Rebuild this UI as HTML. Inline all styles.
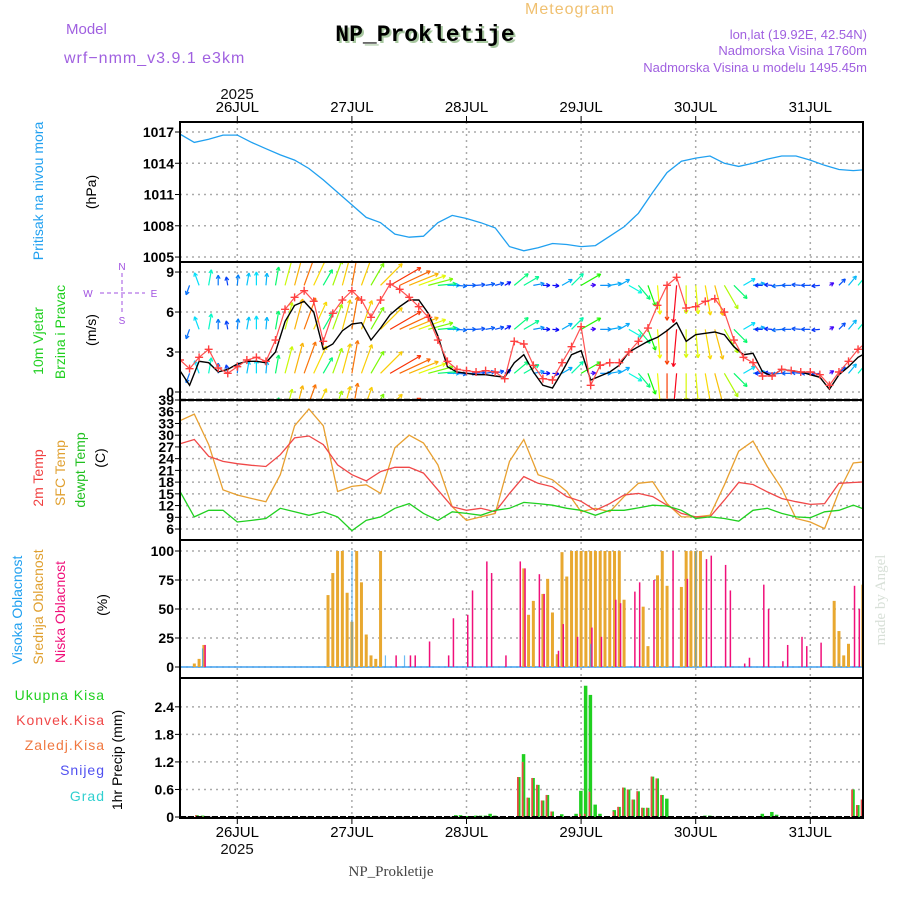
<!DOCTYPE html>
<html><head><meta charset="utf-8"><style>
html,body{margin:0;padding:0;background:#fff;}
svg{display:block;font-family:"Liberation Sans",sans-serif;}
</style></head><body>
<svg id="chart" width="900" height="900" viewBox="0 0 900 900" xmlns="http://www.w3.org/2000/svg">
<rect width="900" height="900" fill="#fff"/>
<text x="570" y="14" font-size="16" fill="#f0c070" text-anchor="middle" letter-spacing="1">Meteogram</text>
<text x="66" y="34" font-size="15" fill="#a060e0">Model</text>
<text x="64" y="63" font-size="16" fill="#a060e0" letter-spacing="1">wrf−nmm_v3.9.1  e3km</text>
<text x="427" y="43" font-family="Liberation Mono,monospace" font-weight="bold" font-size="23" fill="#a8c8a0" text-anchor="middle">NP_Prokletije</text>
<text x="425" y="41" font-family="Liberation Mono,monospace" font-weight="bold" font-size="23" fill="#000" text-anchor="middle">NP_Prokletije</text>
<text x="867" y="39" font-size="13" fill="#a060e0" text-anchor="end">lon,lat (19.92E, 42.54N)</text>
<text x="867" y="55" font-size="13" fill="#a060e0" text-anchor="end">Nadmorska Visina 1760m</text>
<text x="867" y="72" font-size="13" fill="#a060e0" text-anchor="end">Nadmorska Visina u modelu 1495.45m</text>
<text x="237" y="99" font-size="15" fill="#111" text-anchor="middle">2025</text>
<text x="237" y="854" font-size="15" fill="#111" text-anchor="middle">2025</text>
<text x="391" y="876" font-family="Liberation Serif,serif" font-size="15" fill="#444" text-anchor="middle">NP_Prokletije</text>
<text transform="translate(885,600) rotate(-90)" font-family="Liberation Serif,serif" font-size="15" fill="#d8e0d8" text-anchor="middle">made by Angel</text>

<g font-size="14">
<text transform="translate(38,191) rotate(-90)" fill="#20a0f0" text-anchor="middle" dominant-baseline="central">Pritisak na nivou mora</text>
<text transform="translate(91,192) rotate(-90)" fill="#000" text-anchor="middle" dominant-baseline="central">(hPa)</text>
<text transform="translate(38,341) rotate(-90)" fill="#20d020" text-anchor="middle" dominant-baseline="central">10m Vjetar</text>
<text transform="translate(60,332) rotate(-90)" fill="#20d020" text-anchor="middle" dominant-baseline="central">Brzina i Pravac</text>
<text transform="translate(91,330) rotate(-90)" fill="#000" text-anchor="middle" dominant-baseline="central">(m/s)</text>
<text transform="translate(38,478) rotate(-90)" fill="#f04040" text-anchor="middle" dominant-baseline="central">2m Temp</text>
<text transform="translate(60,473) rotate(-90)" fill="#e0a030" text-anchor="middle" dominant-baseline="central">SFC Temp</text>
<text transform="translate(80,470) rotate(-90)" fill="#20c020" text-anchor="middle" dominant-baseline="central">dewpt Temp</text>
<text transform="translate(100,458) rotate(-90)" fill="#000" text-anchor="middle" dominant-baseline="central">(C)</text>
<text transform="translate(17,610) rotate(-90)" fill="#20a0f0" text-anchor="middle" dominant-baseline="central">Visoka Oblacnost</text>
<text transform="translate(38,607) rotate(-90)" fill="#e0a030" text-anchor="middle" dominant-baseline="central">Srednja Oblacnost</text>
<text transform="translate(60,612) rotate(-90)" fill="#f0107a" text-anchor="middle" dominant-baseline="central">Niska Oblacnost</text>
<text transform="translate(102,605) rotate(-90)" fill="#000" text-anchor="middle" dominant-baseline="central">(%)</text>
<text transform="translate(117,760) rotate(-90)" fill="#000" text-anchor="middle" dominant-baseline="central">1hr Precip (mm)</text>
<text x="105" y="700" fill="#20d020" text-anchor="end" letter-spacing="1">Ukupna  Kisa</text>
<text x="105" y="725" fill="#f04848" text-anchor="end" letter-spacing="1">Konvek.Kisa</text>
<text x="105" y="750" fill="#f07840" text-anchor="end" letter-spacing="1">Zaledj.Kisa</text>
<text x="105" y="775" fill="#5050f0" text-anchor="end" letter-spacing="1">Snijeg</text>
<text x="105" y="801" fill="#30d0d0" text-anchor="end" letter-spacing="1">Grad</text>
</g>
<g font-size="10" fill="#a050e0" stroke="none" text-anchor="middle">
<text x="122" y="270">N</text><text x="122" y="324">S</text><text x="88" y="297">W</text><text x="154" y="297">E</text>
<line x1="100" y1="293" x2="145" y2="293" stroke="#a050e0" stroke-dasharray="4,3"/>
<line x1="122" y1="273" x2="122" y2="314" stroke="#a050e0" stroke-dasharray="4,3"/>
</g>
<g id="plot"></g>
</svg>
<script>
// time axis: hours from 25 JUL 12Z
const dayLabels = ["26JUL","27JUL","28JUL","29JUL","30JUL","31JUL"];
const dayHours = [12,36,60,84,108,132];
// pressure (3-hourly)
const pressure = [1016.8,1016,1016.3,1016.7,1016.7,1016,1015.4,1014.8,1014.3,1013.5,1012.4,1011.2,1010,1008.8,1008.3,1007.2,1006.9,1007,1008.3,1009,1008.7,1008.3,1007.8,1006,1005.6,1005.9,1006.3,1006.2,1006,1006.1,1007,1007.9,1009.2,1011.2,1013.1,1014.2,1014.5,1014.7,1014,1013.7,1014,1014.4,1014.7,1014.7,1014.3,1013.8,1013.4,1013.3,1013.4];
const pressureTicks = [1005,1008,1011,1014,1017];
// wind (2-hourly)
const windGust = [2.4,1.75,2.6,3.2,1.8,1.4,1.9,2.4,2.6,2.3,3.9,6.2,7.1,7.6,6.8,3.8,5.9,6.9,7.6,6.9,5.6,6.9,8.1,7.7,7.1,6.4,5.6,3.9,2.3,1.7,1.6,1.5,1.6,1.5,1.0,3.8,3.6,2.0,1.0,0.9,2.2,3.4,4.9,0.5,2.0,2.2,2.2,3.0,3.8,4.8,6.5,8.0,8.6,6.3,6.4,6.8,7.0,6.0,3.9,2.6,2.2,1.2,1.2,1.7,1.6,1.5,1.5,1.3,0.5,1.5,2.3,3.2,3.8];
const windMean = [1.6,0.5,2.3,2.2,1.5,1.7,2.1,2.3,2.3,2.2,3.0,5.3,6.5,6.8,6.0,3.2,3.6,4.6,5.1,5.2,3.9,4.8,5.8,6.4,6.9,6.9,5.9,4.2,1.9,1.5,1.4,1.3,1.3,1.2,1.1,2.2,2.8,1.5,0.5,0.3,1.5,2.8,3.1,0.9,1.2,1.5,2.0,3.0,3.4,3.8,4.1,4.6,5.2,3.8,4.3,4.4,4.5,4.3,3.4,2.8,2.9,1.5,1.2,1.7,1.6,1.5,1.3,1.1,0.2,1.3,1.9,2.6,3.0];
const windDir = [220,200,340,10,0,350,5,10,0,5,10,15,15,20,25,30,20,15,10,20,30,45,60,65,68,70,75,85,90,95,90,85,80,75,60,50,60,80,90,95,60,45,60,85,90,80,60,120,140,160,175,180,185,180,175,170,165,150,135,60,80,270,275,265,270,275,270,265,60,45,40,40,35];
const windRowBase = [8.0,4.7,1.4,-1.8];
const windTicks = [0,3,6,9];
// temperature (3-hourly)
const temp2m = [27.8,28.9,24.6,23.3,22.7,22.3,22,25,29.3,29.8,27.6,22.4,19.9,18.3,20.7,21.8,21.8,20.3,16,11.7,10.8,11.3,10.4,15.1,19.4,17.7,16.8,14.3,13.1,10.8,12.5,14.7,15.1,14.3,12.1,10,9.1,9.1,13.4,17.9,17.4,15.5,13.8,13,12.3,12.5,17.7,17.9,18.1];
const tempSfc = [33.7,35.4,27.6,16,14.7,13.8,13,19.9,32.4,36.7,32.4,15.6,16.9,17.3,15.1,26.8,30,28,22.4,11.7,8.2,9.1,10,23.3,28.9,19.9,18.6,15.6,10.4,11.3,10.4,14.3,17.7,18.1,12.5,9.1,9.1,9.5,17.3,25.9,28.5,22,16.4,8.7,7.8,6.1,15.6,22.9,23.3];
const tempDew = [15.6,9.1,10.8,10.8,7.8,8.2,8.7,11.3,10.4,9.5,10.4,9.1,5.6,8.2,9.1,11.3,12.5,10,8.2,10.4,10,9.5,10.8,11.3,12.8,12.5,12.1,11.3,10.8,9.5,10.8,10.8,11.4,12.1,11.9,10.8,8.7,9.1,8.7,8,10.8,11.3,10,9.1,8.9,10.4,10.8,12.1,10.8];
const tempTicks = [6,9,12,15,18,21,24,27,30,33,36,39];
// clouds (hour, %)
const midHours = [3,4,5,31,32,33,34,35,36,37,38,39,40,41,42,72,73,74,76,77,78,79,80,81,82,83,84,85,86,87,88,89,90,91,92,93,97,98,100,101,102,105,106,107,108,109,137,138,139,140,143];
const midCover = [3,7,19,62,81,100,100,64,39,100,73,28,10,7,100,85,45,57,63,76,47,11,99,78,100,100,100,100,100,100,100,100,100,100,100,58,52,18,79,100,70,69,100,100,100,100,57,31,10,20,71];
const lowHours = [5,45,48,49,52,56,57,60,61,64,65,68,71,72,75,76,79,80,83,86,88,91,92,95,96,99,103,106,110,111,114,115,118,119,122,123,126,127,130,131,134,141,142];
const lowCover = [19,10,10,10,22,10,42,45,66,91,81,10,91,85,80,63,14,37,26,34,26,58,55,65,73,75,100,76,93,96,88,66,3,8,71,50,5,19,26,18,21,70,50];
const highHours = [4.7,36,43,47,86,108,138];
const highCover = [16,100,10,10,20,100,3];
const cloudTicks = [0,25,50,75,100];
// precipitation (hour, mm)
const rainHours = [3.6,4.8,57.8,58.8,60,62,63,64,65,66,71,72,73,74,75,76,77,78,80,83,84,85,86,87,88,91,92,93,94,95,96,97,98,99,100,101,102,110,111,122,124,125,140,141,142,143];
const rainTotal = [0.04,0.03,0.04,0.04,0.02,0.03,0.03,0.03,0.07,0.03,0.87,1.37,0.42,0.85,0.7,0.36,0.48,0.12,0.06,0.07,0.57,2.86,2.66,0.27,0.07,0.15,0.22,0.64,0.6,0.38,0.56,0.2,0.2,0.88,0.84,0.48,0.4,0.03,0.03,0.07,0.11,0.05,0.02,0.6,0.26,0.38];
const rainConv = [0.04,0.02,0,0,0,0,0,0,0,0,0.87,1.2,0.42,0.85,0.7,0.36,0.48,0.12,0,0,0.07,0.07,0.55,0,0,0.12,0.22,0.64,0.6,0.38,0.56,0.2,0.2,0.88,0.84,0.48,0,0,0,0,0,0,0.02,0.6,0.26,0.38];
const rainTicks = [0,0.6,1.2,1.8,2.4];

const NS="http://www.w3.org/2000/svg";
const plot=document.getElementById('plot');
const L=180,R=863;
const X=t=>L+t*4.775;
const yP=p=>132+(1017-p)*10.42;
const yW=s=>392-s*13.33;
const yT=v=>400+(39-v)*3.91;
const yC=c=>667-c*1.16;
const yR=r=>817-r*45.9;
function mk(tag,attrs,parent){const e=document.createElementNS(NS,tag);for(const k in attrs)e.setAttribute(k,attrs[k]);(parent||plot).appendChild(e);return e;}
function txt(s,x,y,size,anchor,parent){const e=mk('text',{x:x,y:y,'font-size':size,'text-anchor':anchor,fill:'#000'},parent);e.textContent=s;return e;}

const defs=mk('defs',{});
const panels=[[122,262],[262,400],[400,540],[540,678],[678,818]];
panels.forEach((p,i)=>{
  const c=mk('clipPath',{id:'clip'+i},defs);
  mk('rect',{x:L,y:p[0],width:R-L,height:p[1]-p[0]},c);
});
// grid verticals
dayHours.forEach((h,i)=>{
  const g=mk('line',{x1:X(h),x2:X(h),y1:122,y2:818,stroke:'#aaa','stroke-dasharray':'2,4','stroke-width':1.5});
  
  
  const a=txt(dayLabels[i],X(h),112,15,'middle');
  
  
  const b=txt(dayLabels[i],X(h),837,15,'middle');
  
  
});
function hgrid(ticks,f,fmt,name){
  ticks.forEach(v=>{
    const g=mk('line',{x1:L,x2:R,y1:f(v),y2:f(v),stroke:'#aaa','stroke-dasharray':'2,4','stroke-width':1.5});
    
    
    const tk=mk('line',{x1:L-5,x2:L,y1:f(v),y2:f(v),stroke:'#000'});
    
    
    const t=txt(fmt(v),L-6,f(v)+5,14,'end');
    t.setAttribute('font-weight','bold');
    
    
  });
}
hgrid(pressureTicks,yP,v=>String(v),'pressure');
hgrid(windTicks,yW,v=>String(v),'wind');
hgrid(tempTicks,yT,v=>String(v),'temp');
hgrid(cloudTicks,yC,v=>String(v),'cloud');
hgrid(rainTicks,yR,v=>v===0?'0':v.toFixed(1),'precip');

function group(i,name){const g=mk('g',{'clip-path':'url(#clip'+i+')'});return g;}
function line(arr,step,f,color,name,parent,w){
  const d=arr.map((v,i)=>(i?'L':'M')+X(i*step).toFixed(1)+','+f(v).toFixed(1)).join('');
  const p=mk('path',{d:d,fill:'none',stroke:color,'stroke-width':w||1.3},parent);
  
  
  return p;
}
// pressure
const gp=group(0,'pressure-series');
line(pressure,3,yP,'#20a0f0','pressure-line',gp);

// wind arrows
const wg=group(1,'wind-arrows');
function hue(s){let h=270-32*Math.min(s,10);h=((h%360)+360)%360;return 'hsl('+h+',95%,50%)';}
windRowBase.forEach((base,r)=>{
  windDir.forEach((d,i)=>{
    const s=windGust[i];
    const len=3+s*4;
    const a=d*Math.PI/180;
    const x0=X(i*2),y0=yW(base);
    const x1=x0+Math.sin(a)*len,y1=y0-Math.cos(a)*len;
    const c=hue(s);
    const ar=mk('g',{},wg);
    
    
    mk('line',{x1:x0,y1:y0,x2:x1,y2:y1,stroke:c,'stroke-width':1.2},ar);
    const hb=a+Math.PI;
    [0.5,-0.5].forEach(o=>{
      mk('line',{x1:x1,y1:y1,x2:x1+Math.sin(hb+o)*4,y2:y1-Math.cos(hb+o)*4,stroke:c,'stroke-width':1.2},ar);
    });
  });
});
line(windMean,2,yW,'#000','wind-mean-line',wg,1.4);
line(windGust,2,yW,'#ff5050','wind-gust-line',wg,1.2);
windGust.forEach((v,i)=>{
  const x=X(i*2),y=yW(v);
  const m=mk('path',{d:`M${x-4},${y}H${x+4}M${x},${y-4}V${y+4}`,stroke:'#ff4040','stroke-width':1.4},wg);
  
  
});

// temperatures
const gt=group(2,'temperature-series');
line(tempSfc,3,yT,'#e8a030','sfc-temp-line',gt);
line(temp2m,3,yT,'#f04848','temp-2m-line',gt);
line(tempDew,3,yT,'#20d020','dewpoint-line',gt);

// clouds
const gc=group(3,'cloud-series');
const cb=mk('line',{x1:L,x2:R,y1:yC(0),y2:yC(0),stroke:'#40a0f0','stroke-width':1.5},gc);


midHours.forEach((h,i)=>{
  const r=mk('rect',{x:X(h)-1.5,y:yC(midCover[i]),width:3,height:yC(0)-yC(midCover[i]),fill:'#e8a830'},gc);
  
  
});
lowHours.forEach((h,i)=>{
  const r=mk('rect',{x:X(h)+0.5,y:yC(lowCover[i]),width:1.5,height:yC(0)-yC(lowCover[i]),fill:'#f0107a'},gc);
  
  
});
highHours.forEach((h,i)=>{
  const r=mk('rect',{x:X(h)-0.5,y:yC(highCover[i]),width:1.2,height:yC(0)-yC(highCover[i]),fill:'#30a0f0',opacity:0.7},gc);
  
  
});

// precipitation
const gr=group(4,'precip-series');
rainHours.forEach((h,i)=>{
  const g=mk('rect',{x:X(h)-2,y:yR(rainTotal[i]),width:3.5,height:yR(0)-yR(rainTotal[i]),fill:'#20d020'},gr);
  
  
  if(rainConv[i]>0){
    const r=mk('rect',{x:X(h)-2,y:yR(rainConv[i]),width:1.7,height:yR(0)-yR(rainConv[i]),fill:'#f04848'},gr);
    
    
  }
});
const pb=mk('line',{x1:L,x2:R,y1:817,y2:817,stroke:'#000','stroke-width':2,'stroke-dasharray':'6,2'});



// frames
panels.forEach((p,i)=>{
  const f=mk('rect',{x:L,y:p[0],width:R-L,height:p[1]-p[0],fill:'none',stroke:'#000','stroke-width':2});
  
  
});
const dl=mk('line',{x1:L,x2:R,y1:400,y2:400,stroke:'#000','stroke-width':2.5,'stroke-dasharray':'6,2'});


dayHours.forEach(h=>{
  const t1=mk('line',{x1:X(h),x2:X(h),y1:116,y2:122,stroke:'#000'});
  
  
  const t2=mk('line',{x1:X(h),x2:X(h),y1:818,y2:824,stroke:'#000'});
  
  
});
</script>
</body></html>
